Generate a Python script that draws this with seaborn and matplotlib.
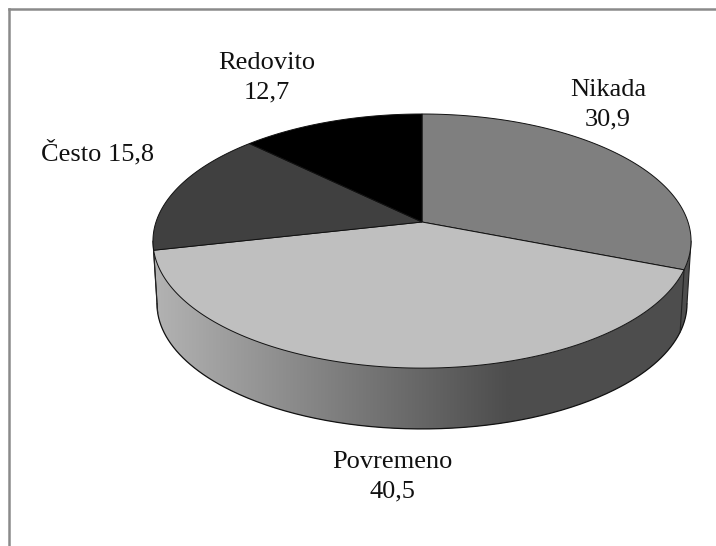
import numpy as np
import matplotlib
matplotlib.use('Agg')
import matplotlib.pyplot as plt
from matplotlib.patches import Polygon
import seaborn as sns

categories = ['Nikada', 'Povremeno', 'Često', 'Redovito']
values = [30.9, 40.5, 15.8, 12.7]
value_labels = ['30,9', '40,5', '15,8', '12,7']
top_colors = ['#7f7f7f', '#bfbfbf', '#404040', '#000000']

sns.set_theme(style='white')
plt.rcParams['font.family'] = ['Liberation Serif', 'DejaVu Serif']

# pie geometry in pixels, tilted disc drawn with a small perspective
cx, cy = 422, 222
rx, ry, persp = 266, 124.2, 0.15
bottom_cy, bottom_scale = 285, 0.985


def rim(theta, center_y=cy, scale=1.0):
    # theta is clockwise from 12 o'clock
    w = 1 + persp * np.cos(theta)
    x = cx + scale * rx * np.sin(theta) / w
    y = center_y - scale * ry * np.cos(theta) / w
    return np.column_stack([x, y])


fig = plt.figure(figsize=(7.16, 5.46), dpi=100)
ax = fig.add_axes([9 / 716, 0, 707 / 716, 537 / 546])

shares = np.array(values) / sum(values)
edges = np.concatenate([[0], np.cumsum(shares)]) * 2 * np.pi

# visible side of the disc, between the two silhouette points
side_from = np.arccos(-persp)
side_to = 2 * np.pi - side_from
t = np.linspace(side_from, side_to, 300)
side_pts = np.vstack([rim(t), rim(t[::-1], bottom_cy, bottom_scale)])
side = Polygon(side_pts, closed=True, facecolor='#4d4d4d', edgecolor='none', zorder=1)
ax.add_patch(side)

# side gets a light to dark gradient going right
shades = sns.blend_palette(['#b3b3b3', '#4d4d4d'], n_colors=256)
grad = ax.imshow(np.array(shades)[np.newaxis, :, :], extent=(153, 510, 440, 200),
                 aspect='auto', zorder=2, interpolation='bilinear')
grad.set_clip_path(side)

ax.plot(*rim(t, bottom_cy, bottom_scale).T, color='#111111', lw=0.9, zorder=3)
ax.plot([rim(t[0])[0, 0], rim(t[0], bottom_cy, bottom_scale)[0, 0]],
        [rim(t[0])[0, 1], rim(t[0], bottom_cy, bottom_scale)[0, 1]], color='#222222', lw=0.8, zorder=3)
ax.plot([rim(t[-1])[0, 0], rim(t[-1], bottom_cy, bottom_scale)[0, 0]],
        [rim(t[-1])[0, 1], rim(t[-1], bottom_cy, bottom_scale)[0, 1]], color='#222222', lw=0.8, zorder=3)

# slice edges running down the side
for e in edges[1:-1]:
    if side_from < e < side_to:
        top_pt = rim(np.array([e]))[0]
        low_pt = rim(np.array([e]), bottom_cy, bottom_scale)[0]
        ax.plot([top_pt[0], low_pt[0]], [top_pt[1], low_pt[1]], color='#222222', lw=0.8, zorder=3)

# top face
for i, col in enumerate(top_colors):
    arc = rim(np.linspace(edges[i], edges[i + 1], 120))
    pts = np.vstack([[cx, cy], arc])
    ax.add_patch(Polygon(pts, closed=True, facecolor=col, edgecolor='#111111', lw=0.7, zorder=4))

text_pos = [(608, 105), (392, 477), (98, 153), (267, 78)]
for i, name in enumerate(categories):
    sep = ' ' if name == 'Često' else '\n'
    ax.text(text_pos[i][0], text_pos[i][1], name + sep + value_labels[i], ha='center', va='center',
            fontsize=19, color='#111111', linespacing=1.42, zorder=5)

ax.set_xlim(9, 716)
ax.set_ylim(546, 9)
ax.set_xticks([])
ax.set_yticks([])
sns.despine(ax=ax, top=False, left=False, right=True, bottom=True)
for s in ['top', 'left']:
    ax.spines[s].set_color('#8a8a8a')
    ax.spines[s].set_linewidth(1.8)

fig.savefig('out.png', dpi=100)
